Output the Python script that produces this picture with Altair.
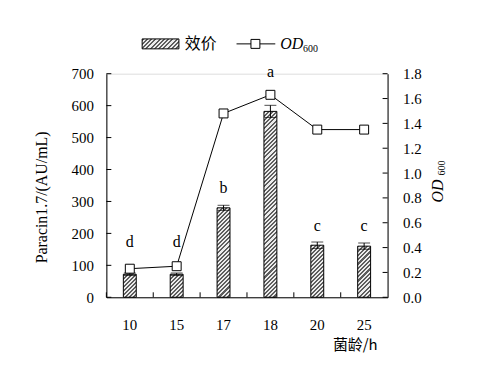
import altair as alt
import pandas as pd

# ---- data ----
ages = ["10", "15", "17", "18", "20", "25"]
titer = [72, 72, 280, 582, 163, 160]          # 效价 (AU/mL)
titer_err = [4, 4, 8, 19, 10, 10]
od600 = [0.23, 0.25, 1.48, 1.63, 1.35, 1.35]  # OD600
letters = ["d", "d", "b", "a", "c", "c"]
letter_pos = [172, 172, 342, 704, 222, 222]
left_ticks = [0, 100, 200, 300, 400, 500, 600, 700]
right_ticks = [0.0, 0.2, 0.4, 0.6, 0.8, 1.0, 1.2, 1.4, 1.6, 1.8]

W, H = 283, 225
LMAX, RMAX = 700, 1.8
BAR_W = 13
FONT = "Liberation Serif"
CJK = "Noto Sans CJK SC"

df = pd.DataFrame({
    "age": ages,
    "v": titer,
    "lo": [t - e for t, e in zip(titer, titer_err)],
    "hi": [t + e for t, e in zip(titer, titer_err)],
    "od": od600,
    "letter": letters,
    "ly": letter_pos,
})


def hatch(w, h, period=4.2, dark="#5e5e5e", light="#ececec"):
    s = w + h
    k = s / (w * w + h * h)
    n = max(1, int(round(s / period)))
    stops = []
    for j in range(n):
        a, b, c = j / n, (j + 0.5) / n, (j + 1) / n
        stops += [
            {"offset": a, "color": dark},
            {"offset": b, "color": dark},
            {"offset": b, "color": light},
            {"offset": c, "color": light},
        ]
    return {"gradient": "linear", "stops": stops,
            "x1": 0, "y1": 0, "x2": w * k, "y2": h * k}


xscale = alt.Scale(domain=ages, paddingInner=0, paddingOuter=0)
x_axis = alt.Axis(
    title="菌龄/h", titleFont=CJK, titleFontWeight="normal", titleFontSize=15,
    titleX=250, titleY=48, titleBaseline="middle", titleAlign="center",
    titleColor="black",
    labelFont=FONT, labelFontSize=15, labelAngle=0, labelPadding=20,
    labelBaseline="top", labelColor="black",
    ticks=False, tickSize=0, domainColor="black", domainWidth=1, grid=False,
)


def X(**kw):
    return alt.X("age:N", sort=ages, scale=xscale, axis=x_axis, **kw)


lscale = alt.Scale(domain=[0, LMAX], nice=False, zero=True)
rscale = alt.Scale(domain=[0, RMAX], nice=False, zero=True)

left_axis = alt.Axis(
    title="Paracin1.7/(AU/mL)", titleFont=FONT, titleFontWeight="normal",
    titleFontSize=16, titleX=-65, titleY=124, titleAngle=270,
    titleAlign="center", titleBaseline="middle", titleColor="black",
    values=left_ticks, labelFont=FONT, labelFontSize=15, labelPadding=13,
    labelColor="black",
    ticks=False, tickSize=0, domainColor="black", domainWidth=1, grid=False,
)
right_axis = alt.Axis(
    title="", orient="right", values=right_ticks, format=".1f",
    labelFont=FONT, labelFontSize=15, labelPadding=15, labelColor="black",
    ticks=False, tickSize=0, domainColor="black", domainWidth=1, grid=False,
)


def YL(field):
    return alt.Y(field, scale=lscale, axis=left_axis)


def YR(field):
    return alt.Y(field, scale=rscale, axis=right_axis)


# ---- left (效价) group ----
left_layers = []
for i in range(len(ages)):
    h_px = titer[i] / LMAX * H
    bar = alt.Chart(df.iloc[[i]]).mark_bar(
        size=BAR_W, fill=hatch(BAR_W, h_px), stroke="black", strokeWidth=1
    ).encode(x=X(), y=YL("v:Q"))
    left_layers.append(bar)

err_rule = alt.Chart(df).mark_rule(color="black", strokeWidth=1).encode(
    x=X(), y=YL("lo:Q"), y2="hi:Q")
err_top = alt.Chart(df).mark_tick(color="black", size=12, thickness=1).encode(
    x=X(), y=YL("hi:Q"))
err_bot = alt.Chart(df).mark_tick(color="black", size=12, thickness=1).encode(
    x=X(), y=YL("lo:Q"))

letter_txt = alt.Chart(df).mark_text(
    font=FONT, fontSize=16, color="black", baseline="middle"
).encode(x=X(), y=YL("ly:Q"), text="letter:N")

lt_df = pd.DataFrame({"t": left_ticks})
lticks = alt.Chart(lt_df).mark_rule(color="black", strokeWidth=1).encode(
    y=YL("t:Q"), x=alt.value(0), x2=alt.value(5))

xticks = alt.Chart(df).mark_rule(color="black", strokeWidth=1).encode(
    x=X(bandPosition=0), y=alt.value(H - 5), y2=alt.value(H))

# legend
one = pd.DataFrame({"a": [0]})
leg_rect = alt.Chart(one).mark_rect(
    fill=hatch(37, 10), stroke="black", strokeWidth=1
).encode(x=alt.value(36), x2=alt.value(73), y=alt.value(-35), y2=alt.value(-25))
leg_t1 = alt.Chart(pd.DataFrame({"t": ["效价"]})).mark_text(
    font=CJK, fontSize=16, align="left", baseline="middle", color="black"
).encode(x=alt.value(79), y=alt.value(-30), text="t:N")
leg_line = alt.Chart(one).mark_rule(color="black", strokeWidth=1).encode(
    x=alt.value(131), x2=alt.value(170), y=alt.value(-30))
leg_pt = alt.Chart(one).mark_point(
    shape="square", size=81, filled=True, fill="white", stroke="black",
    strokeWidth=1, opacity=1
).encode(x=alt.value(150), y=alt.value(-30))
leg_od = alt.Chart(pd.DataFrame({"t": ["OD"]})).mark_text(
    font=FONT, fontSize=16, fontStyle="italic", align="left",
    baseline="middle", color="black"
).encode(x=alt.value(175), y=alt.value(-30), text="t:N")
leg_600 = alt.Chart(pd.DataFrame({"t": ["600"]})).mark_text(
    font=FONT, fontSize=10, align="left", baseline="middle", color="black"
).encode(x=alt.value(198), y=alt.value(-25), text="t:N")

# right axis title
r_od = alt.Chart(pd.DataFrame({"t": ["OD"]})).mark_text(
    font=FONT, fontSize=16, fontStyle="italic", align="center",
    baseline="middle", angle=270, color="black"
).encode(x=alt.value(334), y=alt.value(118), text="t:N")
r_600 = alt.Chart(pd.DataFrame({"t": ["600"]})).mark_text(
    font=FONT, fontSize=10, align="center", baseline="middle", angle=270,
    color="black"
).encode(x=alt.value(338), y=alt.value(95), text="t:N")

left_group = alt.layer(
    *left_layers, err_rule, err_top, err_bot, letter_txt, lticks, xticks,
    leg_rect, leg_t1, leg_line, leg_pt, leg_od, leg_600, r_od, r_600
)

# ---- right (OD600) group ----
od_line = alt.Chart(df).mark_line(color="black", strokeWidth=1).encode(
    x=X(), y=YR("od:Q"))
od_pts = alt.Chart(df).mark_point(
    shape="square", size=81, filled=True, fill="white", stroke="black",
    strokeWidth=1, opacity=1
).encode(x=X(), y=YR("od:Q"))
rt_df = pd.DataFrame({"od": right_ticks})
rticks = alt.Chart(rt_df).mark_rule(color="black", strokeWidth=1).encode(
    y=YR("od:Q"), x=alt.value(W - 5), x2=alt.value(W))

right_group = alt.layer(od_line, od_pts, rticks)

chart = alt.layer(left_group, right_group).resolve_scale(
    y="independent"
).properties(
    width=W, height=H,
    autosize=alt.AutoSizeParams(type="none"),
    padding={"left": 99, "top": 65, "right": 90, "bottom": 60},
    background="white",
).configure_view(stroke=None).configure(font=FONT)

chart.save("out.html", embed_options={"renderer": "svg", "actions": False})
